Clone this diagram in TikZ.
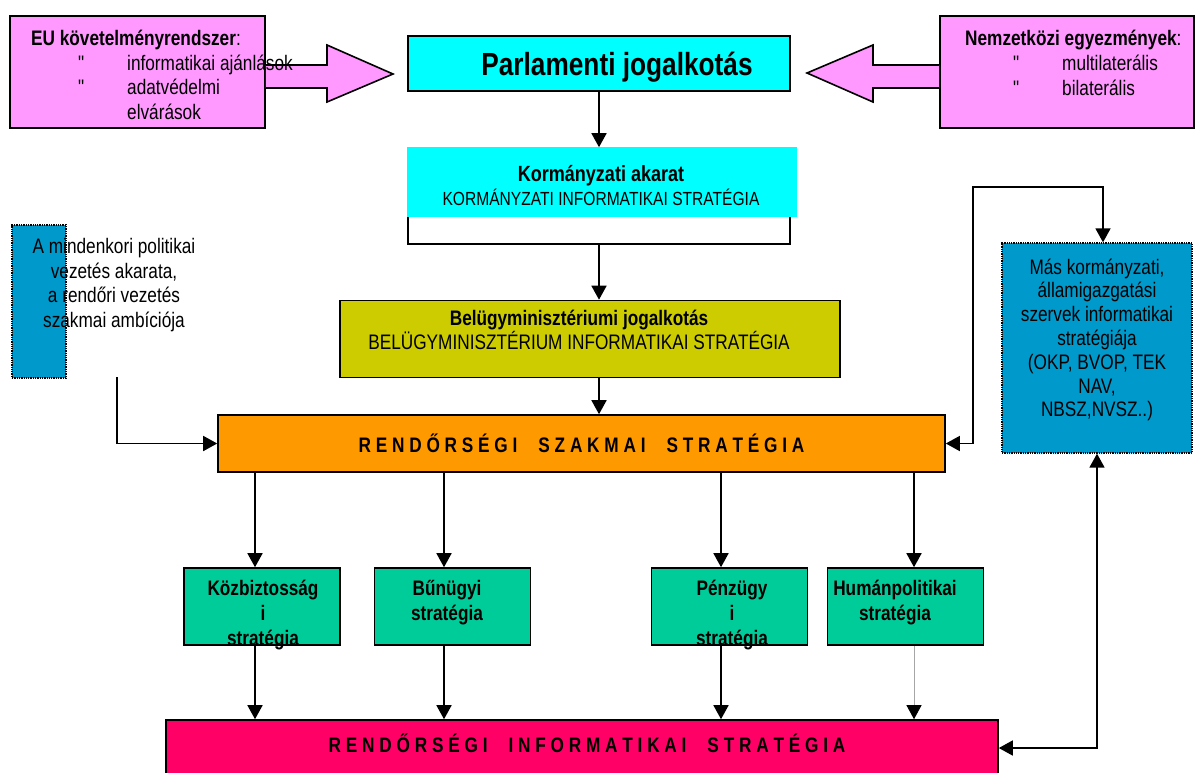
\documentclass[tikz,border=0pt]{standalone}
\usepackage{fontspec}
\setmainfont{Liberation Sans}[FakeStretch=0.82]
\newfontfamily\egyenes{Liberation Sans}[FakeStretch=0.82]
\usetikzlibrary{arrows.meta}
\definecolor{rozsaszin}{HTML}{FF99FF}
\definecolor{cian}{HTML}{00FFFF}
\definecolor{olajzold}{HTML}{CCCC00}
\definecolor{narancs}{HTML}{FF9900}
\definecolor{kek}{HTML}{0099CC}
\definecolor{zold}{HTML}{00CC99}
\definecolor{piros}{HTML}{FF0066}

\begin{document}
\begin{tikzpicture}[x=1pt,y=-1pt,
  box/.style={draw,line width=1.6pt,inner sep=0pt},
  pontozott/.style={draw,densely dotted,line width=1.3pt,fill=kek,inner sep=0pt},
  zoldbox/.style={box,fill=zold,minimum width=156pt,minimum height=77pt},
  txt/.style={inner sep=0pt,align=center,font=\fontsize{21}{24.5}\selectfont},
  idezo/.style={txt,font=\egyenes\fontsize{21}{24.5}\selectfont},
  vastag/.style={txt,font=\bfseries\fontsize{21}{25}\selectfont},
  nyil/.style={line width=1.6pt,-{Stealth[length=14pt,width=15pt,inset=0pt]}},
  ketnyil/.style={line width=1.6pt,{Stealth[length=14pt,width=15pt,inset=0pt]}-{Stealth[length=14pt,width=15pt,inset=0pt]}}]
\useasboundingbox (0,0) rectangle (1196,772);

\node[box,fill=rozsaszin,minimum width=255pt,minimum height=112pt] (eu) at (137.5,72) {};
\filldraw[line width=1.6pt,fill=rozsaszin] (eu.east |- 0,65) -- (327,65) -- (327,45) -- (393,74) -- (327,102) -- (327,88) -- (eu.east |- 0,88);
\node[txt,anchor=base west] (eucim) at (31,45) {\textbf{EU követelményrendszer}:};
\node[idezo,anchor=base west] (eu1) at (78,70) {"};
\node[txt,anchor=base west] (eu1t) at (127,70) {informatikai ajánlások};
\node[idezo,anchor=base west] (eu2) at (78,94.5) {"};
\node[txt,anchor=base west] (eu2t) at (127,94.5) {adatvédelmi};
\node[txt,anchor=base west] (eu3t) at (127,119) {elvárások};

\node[box,fill=rozsaszin,minimum width=254pt,minimum height=112pt] (nemz) at (1067,72) {};
\filldraw[line width=1.6pt,fill=rozsaszin] (nemz.west |- 0,65) -- (873,65) -- (873,45) -- (807,73) -- (873,102) -- (873,88) -- (nemz.west |- 0,88);
\node[txt,anchor=base west] (nemzcim) at (965,45) {\textbf{Nemzetközi egyezmények}:};
\node[idezo,anchor=base west] (nemz1) at (1013,70) {"};
\node[txt,anchor=base west] (nemz1t) at (1062,70) {multilaterális};
\node[idezo,anchor=base west] (nemz2) at (1013,95) {"};
\node[txt,anchor=base west] (nemz2t) at (1062,95) {bilaterális};

\node[box,fill=cian,minimum width=382pt,minimum height=55pt,text depth=0pt,
  font=\bfseries\fontsize{32}{36}\selectfont] (parl) at (599,63.5) {\hspace*{36pt}Parlamenti jogalkotás};

\node[box,minimum width=382pt,minimum height=96pt] (korm) at (599,196) {};
\fill[cian] (korm.north west) rectangle (797,217);
\node[txt] (kormtxt) at (601,185.5) {{\bfseries\fontsize{22}{25}\selectfont Kormányzati akarat}\\
  {\fontsize{19}{25}\selectfont KORMÁNYZATI INFORMATIKAI STRATÉGIA}};

\node[box,fill=olajzold,minimum width=500pt,minimum height=77pt] (belugy) at (590,339) {};
\node[txt] (belugytxt) at (579,330) {\textbf{Belügyminisztériumi jogalkotás}\\
  BELÜGYMINISZTÉRIUM INFORMATIKAI STRATÉGIA};

\node[box,fill=narancs,minimum width=727pt,minimum height=57pt,font=\bfseries\fontsize{21}{25}\selectfont] (rss) at (581.5,443.5)
  {R E N D Ő R S É G I\quad S Z A K M A I\quad S T R A T É G I A};

\node[pontozott,minimum width=54pt,minimum height=153pt] (mind) at (39,301.5) {};
\node[txt] (mindtxt) at (114,285) {A mindenkori politikai\\ vezetés akarata,\\ a rendőri vezetés\\ szakmai ambíciója};

\node[pontozott,minimum width=190pt,minimum height=210pt] (mas) at (1097,348) {};
\node[txt,font=\fontsize{21}{23.8}\selectfont] (mastxt) at (1097,340) {Más kormányzati,\\ államigazgatási\\ szervek informatikai\\ stratégiája\\ (OKP, BVOP, TEK\\ NAV,\\ NBSZ,NVSZ..)};

\node[zoldbox] (kozb) at (262,606.5) {};
\node[zoldbox] (bun) at (452.5,606.5) {};
\node[zoldbox] (penz) at (729.5,606.5) {};
\node[zoldbox] (human) at (905.5,606.5) {};
\node[vastag] (kozbtxt) at (263,615) {Közbiztosság\\ i\\ stratégia};
\node[vastag] (buntxt) at (447,602.5) {Bűnügyi\\ stratégia};
\node[vastag] (penztxt) at (732,615) {Pénzügy\\ i\\ stratégia};
\node[vastag] (humantxt) at (895,602.5) {Humánpolitikai\\ stratégia};

\node[box,fill=piros,minimum width=832pt,minimum height=56pt] (irs) at (582,748) {};
\node[vastag] (irstxt) at (587,743.5) {R E N D Ő R S É G I\quad I N F O R M A T I K A I\quad S T R A T É G I A};

\draw[nyil] (parl) -- (korm);
\draw[nyil] (korm.south) -- (korm.south |- belugy.north);
\draw[nyil] (korm.south |- belugy.south) -- (korm.south |- rss.north);
\coordinate (mindvege) at (117,377);
\draw[nyil] (mindvege) |- (rss.west);
\coordinate (kanyar) at (973,187);
\draw[ketnyil] (rss.east) -| (kanyar) -| ([xshift=6pt]mas.north);
\draw[ketnyil] (mas.south) |- (irs.east);

\foreach \g/\x in {kozb/255,bun/444,penz/721,human/914}
  \draw[nyil] (rss.south -| \x,0) -- (\g.north -| \x,0);
\foreach \g/\x in {kozb/255,bun/444,penz/721}
  \draw[nyil] (\g.south -| \x,0) -- (irs.north -| \x,0);
\draw[line width=0.9pt,draw=gray!70,-{Stealth[length=14pt,width=15pt,inset=0pt,color=black]}] (human.south -| 914,0) -- (irs.north -| 914,0);
\end{tikzpicture}
\end{document}
